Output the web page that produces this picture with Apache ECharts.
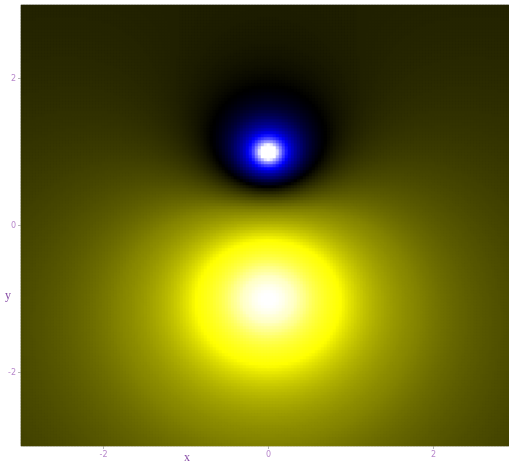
<!DOCTYPE html>
<html>
<head>
<meta charset="utf-8">
<script src="https://cdn.jsdelivr.net/npm/echarts@6/dist/echarts.min.js"></script>
<style>
  html, body { margin: 0; padding: 0; background: #ffffff; }
  #chart { width: 509px; height: 463px; }
</style>
</head>
<body>
<div id="chart"></div>
<script>
// Point charges whose summed potential is plotted
const chargeX = [0, 0];
const chargeY = [-1, 1];
const chargeQ = [1, -0.31];

// Sampled domain and grid resolution (3 px cells)
const xRange = [-3, 3];
const yRange = [-3, 3];
const xCells = 165;
const yCells = 147;

// Tick labels on both axes
const xTicks = [-2, 0, 2];
const yTicks = [-2, 0, 2];

// Colour ramp for the potential: white-blue-black for negative, black-yellow-white for positive
const stopValues = [-2.6, -1.5, -0.8, -0.3, 0, 0.425, 1.0, 1.5, 2.1, 3.0, 5, 8, 12];
const stopColors = ['#ffffff', '#8080ff', '#0000ff', '#000070', '#000000',
                    '#808000', '#ffff00', '#ffff40', '#ffff88', '#ffffc4', '#ffffe8', '#fffff8', '#ffffff'];

function cellCentres(range, n) {
  const out = [];
  const step = (range[1] - range[0]) / n;
  for (let i = 0; i < n; i++) out.push(range[0] + (i + 0.5) * step);
  return out;
}
const xs = cellCentres(xRange, xCells);
const ys = cellCentres(yRange, yCells);

function potential(x, y) {
  let v = 0;
  for (let k = 0; k < chargeQ.length; k++) {
    const dx = x - chargeX[k], dy = y - chargeY[k];
    v += chargeQ[k] / Math.sqrt(dx * dx + dy * dy);
  }
  return v;
}

const data = [];
for (let i = 0; i < xs.length; i++) {
  for (let j = 0; j < ys.length; j++) {
    data.push([i, j, potential(xs[i], ys[j])]);
  }
}

// Sample the stop list into an evenly spaced colour array for the visualMap
function hexToRgb(h) {
  return [parseInt(h.slice(1, 3), 16), parseInt(h.slice(3, 5), 16), parseInt(h.slice(5, 7), 16)];
}
function colourAt(v) {
  if (v <= stopValues[0]) return stopColors[0];
  for (let k = 1; k < stopValues.length; k++) {
    if (v <= stopValues[k]) {
      const t = (v - stopValues[k - 1]) / (stopValues[k] - stopValues[k - 1]);
      const a = hexToRgb(stopColors[k - 1]), b = hexToRgb(stopColors[k]);
      const c = a.map((ch, n) => Math.round(ch + (b[n] - ch) * t));
      return 'rgb(' + c.join(',') + ')';
    }
  }
  return stopColors[stopColors.length - 1];
}
const vMin = stopValues[0];
const vMax = stopValues[stopValues.length - 1];
const ramp = [];
const rampSteps = 1460;
for (let s = 0; s <= rampSteps; s++) ramp.push(colourAt(vMin + (vMax - vMin) * s / rampSteps));

function isTick(value, ticks) {
  return ticks.some(t => Math.abs(value - t) < 1e-6);
}
const xCats = xs.map(v => v.toFixed(4));
const yCats = ys.map(v => v.toFixed(4));

const labelColour = '#b888cc';
const tickStyle = { color: '#b8b8b8', width: 1 };

const chart = echarts.init(document.getElementById('chart'), null, { renderer: 'canvas' });
chart.setOption({
  animation: false,
  backgroundColor: '#ffffff',
  grid: {
    left: 21, top: 5, width: 495, height: 441,
    outerBoundsMode: 'none',
    containLabel: false,
    show: true, borderColor: '#cccccc', borderWidth: 1, backgroundColor: 'transparent'
  },
  xAxis: {
    type: 'category',
    data: xCats,
    axisLine: { show: false },
    axisTick: {
      show: true, alignWithLabel: true, length: 3, lineStyle: tickStyle,
      interval: (idx) => isTick(xs[idx], xTicks)
    },
    axisLabel: {
      interval: (idx) => isTick(xs[idx], xTicks),
      formatter: (v) => String(Math.round(parseFloat(v))),
      color: labelColour, fontSize: 8, margin: 5, fontFamily: 'DejaVu Sans'
    },
    splitLine: { show: false }
  },
  yAxis: {
    type: 'category',
    data: yCats,
    axisLine: { show: false },
    axisTick: {
      show: true, alignWithLabel: true, length: 3, lineStyle: tickStyle,
      interval: (idx) => isTick(ys[idx], yTicks)
    },
    axisLabel: {
      interval: (idx) => isTick(ys[idx], yTicks),
      formatter: (v) => String(Math.round(parseFloat(v))),
      color: labelColour, fontSize: 8, margin: 5, fontFamily: 'DejaVu Sans'
    },
    splitLine: { show: false }
  },
  visualMap: {
    show: false,
    type: 'continuous',
    dimension: 2,
    min: vMin,
    max: vMax,
    inRange: { color: ramp },
    outOfRange: { color: '#ffffff' }
  },
  series: [{
    type: 'heatmap',
    data: data,
    progressive: 0,
    emphasis: { disabled: true },
    itemStyle: { borderWidth: 0 }
  }],
  graphic: [
    { type: 'text', left: 184, top: 452, style: { text: 'x', fill: '#8a50a8', font: '12px "Liberation Serif"' } },
    { type: 'text', left: 5, top: 290, style: { text: 'y', fill: '#8a50a8', font: '12px "Liberation Serif"' } }
  ]
});
</script>
</body>
</html>
